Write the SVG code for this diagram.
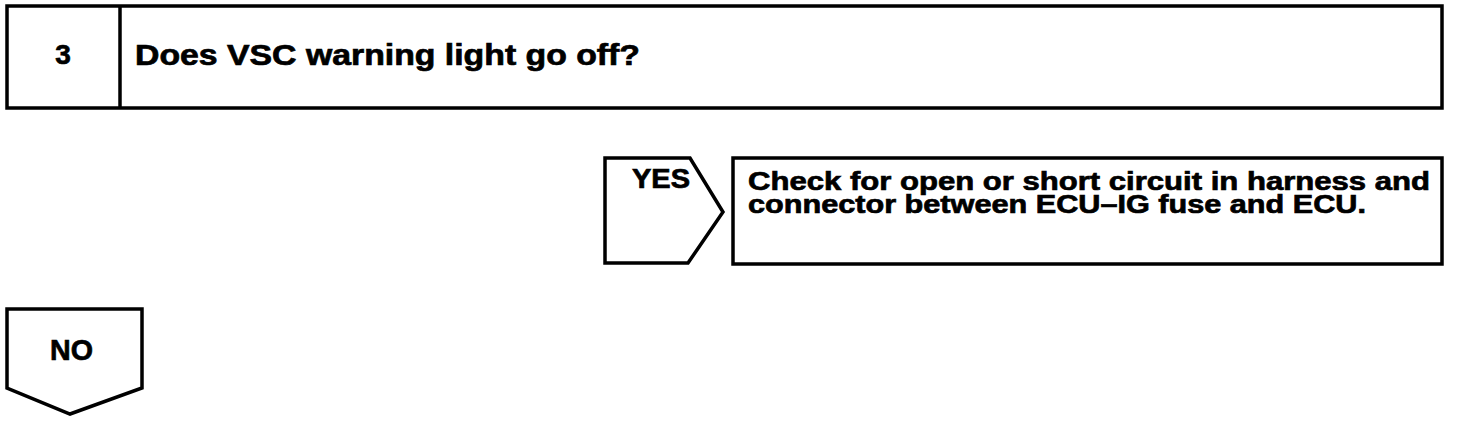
<svg xmlns="http://www.w3.org/2000/svg" width="1472" height="430" viewBox="0 0 1472 430">
<style>
.box{fill:#fff;stroke:#000;stroke-width:3.5;stroke-linejoin:miter}
.t{font-family:"Liberation Sans",Arial,sans-serif;font-weight:bold;fill:#000;stroke:#000;stroke-width:0.7}
</style>
<rect width="1472" height="430" fill="#fff"/>
<g id="step3">
<rect class="box" x="7" y="6" width="1435" height="102"/>
<line class="box" x1="120" y1="6" x2="120" y2="108"/>
<text class="t" x="63" y="64" font-size="28" text-anchor="middle">3</text>
<text class="t" x="135" y="65" font-size="29" textLength="505" lengthAdjust="spacingAndGlyphs">Does VSC warning light go off?</text>
</g>
<g id="connectors">
<g id="yes">
<path class="box" d="M605,158 H690 L723,212 L688,263 H605 Z"/>
<text class="t" x="632" y="188" font-size="27" textLength="58" lengthAdjust="spacingAndGlyphs">YES</text>
</g>
<g id="no">
<path class="box" d="M7,309 H142 V388 L70,414 L7,388 Z"/>
<text class="t" x="71.5" y="360" font-size="30" text-anchor="middle" textLength="43" lengthAdjust="spacingAndGlyphs">NO</text>
</g>
</g>
<g id="check">
<rect class="box" x="733" y="158" width="709" height="106"/>
<text class="t" x="748" y="190" font-size="26" textLength="682" lengthAdjust="spacingAndGlyphs">Check for open or short circuit in harness and</text>
<text class="t" x="748" y="213" font-size="26" textLength="618" lengthAdjust="spacingAndGlyphs">connector between ECU–IG fuse and ECU.</text>
</g>
</svg>
